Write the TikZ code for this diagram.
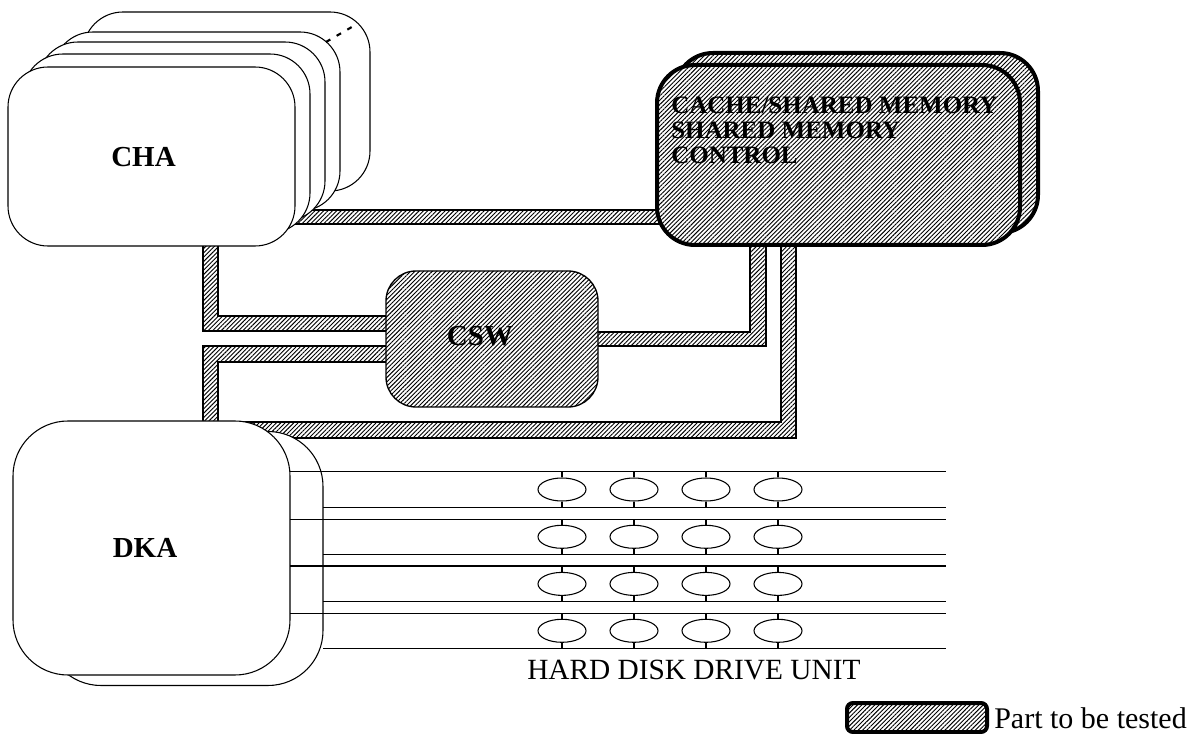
\documentclass[tikz,border=0pt]{standalone}
\usepackage{fontspec}
\setmainfont{Liberation Serif}
\usetikzlibrary{patterns.meta,shapes.geometric}
\tikzset{
  hatch/.style={preaction={fill=white}, pattern={Lines[angle=45,distance=2.3pt,line width=0.7pt]}},
  bus/.style={hatch, draw=black, line width=1pt, line join=miter},
  plainbox/.style={draw=black, fill=white, line width=0.8pt, inner sep=0pt},
  chabox/.style={plainbox, rounded corners=30pt, minimum width=215.25pt, minimum height=134.25pt},
  dkabox/.style={plainbox, rounded corners=41.25pt, minimum width=207.75pt, minimum height=190.5pt},
  cachebox/.style={draw=black, hatch, line width=3pt, rounded corners=28.5pt, minimum width=272.25pt, minimum height=135pt, inner sep=0pt},
  cswbox/.style={draw=black, hatch, line width=1pt, rounded corners=22.5pt, minimum width=159pt, minimum height=102pt, inner sep=0pt},
  legendbox/.style={draw=black, hatch, line width=3pt, rounded corners=4.5pt, minimum width=105pt, minimum height=21.75pt, inner sep=0pt},
  disk/.style={ellipse, draw=black, line width=0.8pt, minimum width=36pt, minimum height=17.25pt, inner sep=0pt},
  thinline/.style={draw=black, line width=0.8pt},
  biglabel/.style={font=\fontsize{21.75}{21.75}\selectfont\bfseries, inner sep=0pt},
  cachelabel/.style={font=\fontsize{18.75}{18.75}\selectfont\bfseries, inner sep=0pt, align=left},
  plainlabel/.style={font=\fontsize{22}{22}\selectfont, inner sep=0pt}
}
\begin{document}
\begin{tikzpicture}[x=0.75pt,y=-0.75pt]
\useasboundingbox (0,0) rectangle (1197,734);

% buses (drawn first, boxes cover their ends)
\path[bus] (280,210) -- (670,210) -- (670,224) -- (280,224) -- cycle;
\path[bus] (203,235) -- (203,331) -- (395,331) -- (395,316) -- (218,316) -- (218,235) -- cycle;
\path[bus] (395,346) -- (203,346) -- (203,430) -- (218,430) -- (218,362) -- (395,362) -- cycle;
\path[bus] (200,438) -- (796,438) -- (796,235) -- (781,235) -- (781,422) -- (200,422) -- cycle;
\path[bus] (590,332) -- (750,332) -- (750,235) -- (766,235) -- (766,346) -- (590,346) -- cycle;

% CHA stack
\node[chabox] (cha5) at (226.5,101.5) {};
\node[chabox] (cha4) at (196.5,121.5) {};
\node[chabox] (cha3) at (181.5,131.5) {};
\node[chabox] (cha2) at (166.5,143.5) {};
\node[chabox] (cha1) at (151.5,156.5) {};
\coordinate (dotA) at (326,42);
\coordinate (dotB) at (357,24);
\draw[line width=1.6pt, dash pattern=on 3.75pt off 5.5pt] (dotA) -- (dotB);
\node[biglabel] (chalabel) at (143.5,157) {CHA};

% cache / shared memory
\node[cachebox] (cache2) at (856.5,143) {};
\node[cachebox] (cache1) at (838.5,155) {};
\node[cachelabel, anchor=north west] (cachelabel) at (671,97) {CACHE/SHARED MEMORY\\SHARED MEMORY\\CONTROL};

% CSW
\node[cswbox] (csw) at (492,339) {};
\node[biglabel] (cswlabel) at (480,336) {CSW};

% DKA
\node[dkabox] (dka2) at (184.5,558.5) {};
\node[dkabox] (dka1) at (151.5,548) {};
\node[biglabel] (dkalabel) at (145,547.5) {DKA};

% hard disk drive rows
\foreach \t/\b/\c [count=\r] in {471.7/507.3/489.5, 519.3/554.3/536.8, 566/601.7/583.9, 613.3/648.3/630.8} {
  \draw[thinline] (290,\t) -- (946,\t);
  \draw[thinline] (323,\b) -- (946,\b);
  \foreach \x [count=\k] in {562,634,706,778} {
    \node[disk] (d\r\k) at (\x,\c) {};
    \draw[thinline] (\x,\t) -- (d\r\k.north);
    \draw[thinline] (d\r\k.south) -- (\x,\b);
  }
}
\node[plainlabel, anchor=base west] (hdd) at (527,679) {HARD DISK DRIVE UNIT};

% legend
\node[legendbox] (legend) at (917,717.5) {};
\node[plainlabel, anchor=base west, font=\fontsize{22.5}{22.5}\selectfont] (legendtext) at (994,728) {Part to be tested};
\end{tikzpicture}
\end{document}
